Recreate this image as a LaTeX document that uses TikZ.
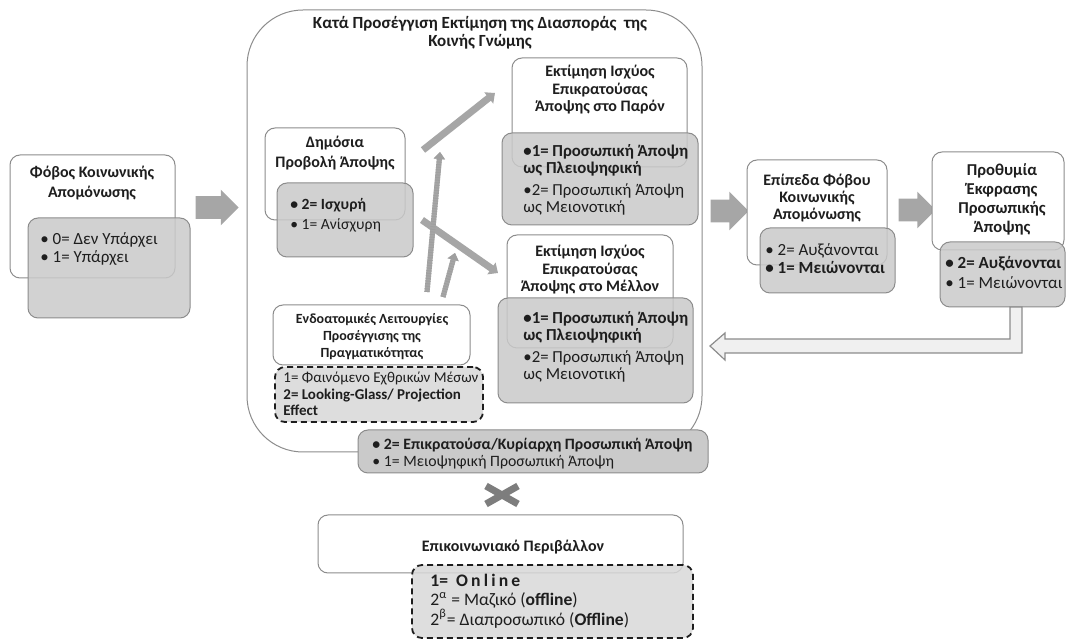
\documentclass[tikz,border=0pt]{standalone}
\usepackage{fontspec}
\setmainfont{Carlito}
\usetikzlibrary{shapes.arrows,arrows.meta,fit}

\definecolor{linie}{RGB}{140,140,140}
\definecolor{grau}{RGB}{202,202,202}
\definecolor{hellgrau}{RGB}{216,216,216}
\definecolor{pfeilgrau}{RGB}{166,166,166}
\definecolor{kreuzgrau}{RGB}{125,125,125}
\definecolor{schrift}{RGB}{30,30,30}

\tikzset{
    kasten/.style={draw=linie, fill=white, rounded corners=5pt, inner sep=0pt, line width=0.5pt},
    wert/.style={kasten, fill=grau, fill opacity=0.85},
    strich/.style={kasten, fill=hellgrau, fill opacity=0.85, draw=schrift, line width=0.9pt, dash pattern=on 3pt off 2pt},
    titel/.style={align=center, inner sep=0pt, text=schrift, font=\fontsize{8}{10}\selectfont\bfseries},
    liste/.style={align=left, inner sep=0pt, anchor=west, text=schrift, font=\fontsize{8.5}{9}\selectfont},
    block/.style={single arrow, fill=pfeilgrau, draw=none, inner xsep=0pt, inner ysep=5.5pt},
    pfeil/.style={draw=pfeilgrau, line width=3.5pt, -{Triangle[length=4pt,width=7pt]}},
    punktpfeil/.style={draw=gray!75, line width=2.6pt, dash pattern=on 0.5pt off 0.8pt,
        preaction={draw=pfeilgrau, line width=2.6pt}, -{Triangle[length=3.5pt,width=5.5pt]}},
    ruck/.style={draw=linie, fill=gray!12, line width=0.6pt},
    kreuz/.style={draw=kreuzgrau, line width=3.5pt}
}

\begin{document}
\begin{tikzpicture}[x=0.5pt,y=-0.5pt]
    \useasboundingbox (0,0) rectangle (1066,640);
    \path node[kasten, fit={(10,155) (175,278)}] (fobos) {}
        node[wert, fit={(28,218) (190,318)}] (foboswert) {}
        node[titel] (fobostitel) at (92,183) {Φόβος Κοινωνικής\\Απομόνωσης}
        node[liste] (fobosliste) at (40,249) {• 0= Δεν Υπάρχει\\• 1= Υπάρχει}
        node[block, minimum height=21.5pt, single arrow head extend=3.25pt] (pfeila) at (211.5,207.5) {};
    \path node[kasten, rounded corners=28pt, fit={(247,10) (702,452)}] (schaetzung) {}
        node[titel, font=\fontsize{8.5}{9}\selectfont\bfseries] (schaetzungtitel) at (480,33) {Κατά Προσέγγιση Εκτίμηση της Διασποράς\ \ της\\Κοινής Γνώμης};
    \path node[kasten, fit={(265,128) (405,220)}] (provoli) {}
        node[wert, fit={(277,183) (413,257)}] (provoliwert) {}
        node[titel] (provolititel) at (335,153) {Δημόσια\\Προβολή Άποψης}
        node[liste, font=\fontsize{7.8}{10}\selectfont] (provoliliste) at (290,215) {\textbf{• 2= Ισχυρή}\\• 1= Ανίσχυρη};
    \path node[kasten, fit={(512,58) (687,167)}] (paron) {}
        node[wert, fit={(502,133) (698,225)}] (paronwert) {}
        node[titel, font=\fontsize{8}{8.75}\selectfont\bfseries] (parontitel) at (600,90) {Εκτίμηση Ισχύος\\Επικρατούσας\\Άποψης στο Παρόν}
        node[liste, font=\fontsize{8.4}{8.5}\selectfont] (paronliste) at (523,180) {\textbf{•1= Προσωπική Άποψη}\\\textbf{ως Πλειοψηφική}\\[2.5pt]•2= Προσωπική Άποψη\\ως Μειονοτική};
    \path node[kasten, fit={(507,235) (673,348)}] (mellon) {}
        node[wert, fit={(498,298) (693,403)}] (mellonwert) {}
        node[titel, font=\fontsize{8}{8.75}\selectfont\bfseries] (mellontitel) at (590,270) {Εκτίμηση Ισχύος\\Επικρατούσας\\Άποψης στο Μέλλον}
        node[liste, font=\fontsize{8.4}{8.5}\selectfont] (mellonliste) at (523,347) {\textbf{•1= Προσωπική Άποψη}\\\textbf{ως Πλειοψηφική}\\[2.5pt]•2= Προσωπική Άποψη\\ως Μειονοτική};
    \path node[kasten, fit={(273,305) (470,365)}] (endo) {}
        node[strich, fit={(275,367) (483,422)}] (endowert) {}
        node[titel, font=\fontsize{7}{8.5}\selectfont\bfseries] (endotitel) at (372,337) {Ενδοατομικές Λειτουργίες\\Προσέγγισης της\\Πραγματικότητας}
        node[liste, font=\fontsize{7.5}{8.3}\selectfont] (endoliste) at (283,394) {1= Φαινόμενο Εχθρικών Μέσων\\\textbf{2= Looking-Glass/ Projection}\\\textbf{Effect}};
    \coordinate (oben1) at (423,150);
    \coordinate (oben2) at (495,93);
    \coordinate (unten1) at (422,220);
    \coordinate (unten2) at (498,273);
    \coordinate (punkt1) at (427,292);
    \coordinate (punkt2) at (440,152);
    \coordinate (punkt3) at (443,297);
    \coordinate (punkt4) at (455,253);
    \draw[pfeil] (oben1) -- (oben2);
    \draw[pfeil] (unten1) -- (unten2);
    \draw[punktpfeil] (punkt1) -- (punkt2);
    \draw[punktpfeil] (punkt3) -- (punkt4);
    \path node[wert, fill opacity=1, fit={(358,430) (708,473)}] (dominanz) {}
        node[liste, font=\fontsize{7.9}{8.5}\selectfont] (dominanzliste) at (372,453.5) {\textbf{• 2= Επικρατούσα/Κυρίαρχη Προσωπική Άποψη}\\• 1= Μειοψηφική Προσωπική Άποψη};
    \draw[kreuz] (486,486) -- (518,504) (486,504) -- (518,486);
    \path node[kasten, fit={(318,515) (683,573)}] (umfeld) {}
        node[strich, fit={(412,565) (693,638)}] (umfeldwert) {}
        node[titel] (umfeldtitel) at (513,547) {Επικοινωνιακό Περιβάλλον}
        node[liste, font=\fontsize{8.8}{9.8}\selectfont] (umfeldliste) at (430,601) {\textbf{1=\hspace{4pt}{\addfontfeature{LetterSpace=18}Online}}\\2\textsuperscript{α} = Μαζικό (\textbf{offline})\\2\textsuperscript{β}= Διαπροσωπικό (\textbf{Offline})};
    \path node[block, minimum height=19pt, single arrow head extend=4pt] (pfeilb) at (724,211) {}
        node[kasten, fit={(747,160) (887,265)}] (epipeda) {}
        node[wert, fit={(760,228) (895,293)}] (epipedawert) {}
        node[titel, font=\fontsize{8}{8.5}\selectfont\bfseries] (epipedatitel) at (817,198) {Επίπεδα Φόβου\\Κοινωνικής\\Απομόνωσης}
        node[liste, font=\fontsize{8.5}{9}\selectfont] (epipedaliste) at (765,259) {• 2= Αυξάνονται\\\textbf{• 1= Μειώνονται}}
        node[block, minimum height=18.5pt, single arrow head extend=3.5pt] (pfeilc) at (911.5,210) {}
        node[kasten, fit={(932,152) (1064,250)}] (prothymia) {}
        node[wert, fit={(940,242) (1065,307)}] (prothymiawert) {}
        node[titel, font=\fontsize{8.3}{9.5}\selectfont\bfseries] (prothymiatitel) at (1002,199.5) {Προθυμία\\Έκφρασης\\Προσωπικής\\Άποψης}
        node[liste, font=\fontsize{8.5}{10}\selectfont] (prothymialiste) at (945,272) {\textbf{• 2= Αυξάνονται}\\• 1= Μειώνονται};
    \draw[ruck] (1010,307) -- (1010,339) -- (725,339) -- (725,333) -- (710,346) -- (725,360) -- (725,353) -- (1022,353) -- (1022,307) -- cycle;
\end{tikzpicture}
\end{document}
